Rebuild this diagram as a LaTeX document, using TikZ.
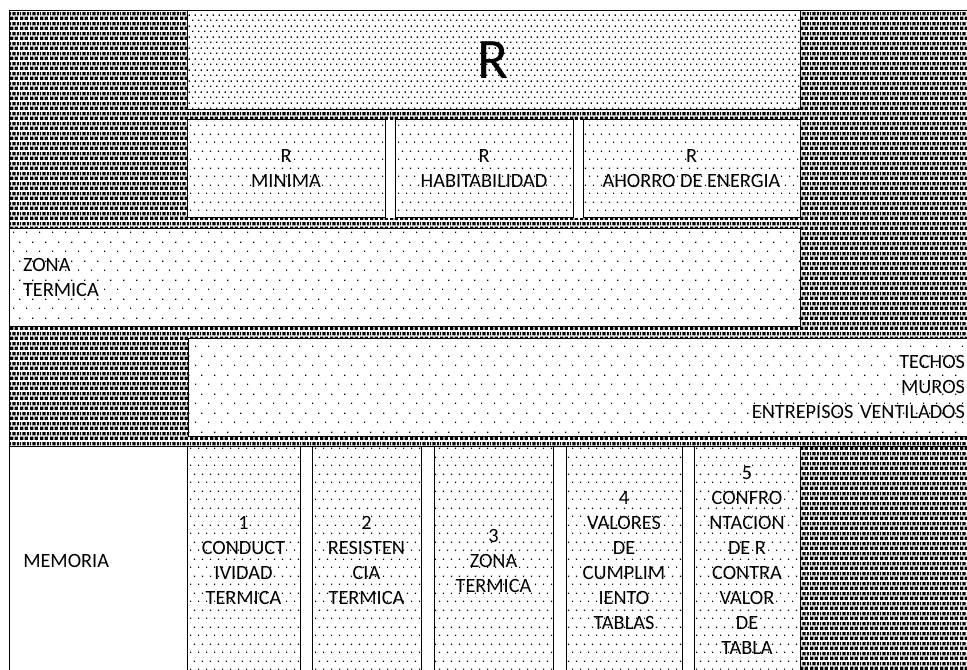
\documentclass[tikz,border=0pt]{standalone}
\usepackage{fontspec}
\setmainfont{Carlito}
\usetikzlibrary{patterns}

% dense checker of black squares (10px tile)
\pgfdeclarepatternformonly{chkpat}{\pgfqpoint{0pt}{0pt}}{\pgfqpoint{7.5pt}{7.5pt}}{\pgfqpoint{7.5pt}{7.5pt}}{%
  \pgfpathrectangle{\pgfqpoint{0pt}{0pt}}{\pgfqpoint{2.75pt}{2.75pt}}%
  \pgfpathrectangle{\pgfqpoint{3.75pt}{0pt}}{\pgfqpoint{2.75pt}{2.75pt}}%
  \pgfpathrectangle{\pgfqpoint{1.875pt}{3.75pt}}{\pgfqpoint{2.75pt}{2.75pt}}%
  \pgfpathrectangle{\pgfqpoint{5.625pt}{3.75pt}}{\pgfqpoint{1.875pt}{2.75pt}}%
  \pgfpathrectangle{\pgfqpoint{0pt}{3.75pt}}{\pgfqpoint{0.875pt}{2.75pt}}%
  \pgfusepath{fill}}
% dense small dots
\pgfdeclarepatternformonly{densedots}{\pgfqpoint{0pt}{0pt}}{\pgfqpoint{4.5pt}{8.25pt}}{\pgfqpoint{4.5pt}{8.25pt}}{%
  \pgfpathrectangle{\pgfqpoint{0pt}{0pt}}{\pgfqpoint{1.2pt}{1.2pt}}%
  \pgfpathrectangle{\pgfqpoint{2.25pt}{4.125pt}}{\pgfqpoint{1.2pt}{1.2pt}}%
  \pgfusepath{fill}}
% medium dots
\pgfdeclarepatternformonly{meddots}{\pgfqpoint{0pt}{0pt}}{\pgfqpoint{6.225pt}{12.75pt}}{\pgfqpoint{6.225pt}{12.75pt}}{%
  \pgfpathrectangle{\pgfqpoint{0pt}{0pt}}{\pgfqpoint{1pt}{1pt}}%
  \pgfpathrectangle{\pgfqpoint{3.1125pt}{6.375pt}}{\pgfqpoint{1pt}{1pt}}%
  \pgfusepath{fill}}
% sparse dots
\pgfdeclarepatternformonly{sparsedots}{\pgfqpoint{0pt}{0pt}}{\pgfqpoint{9.75pt}{14.25pt}}{\pgfqpoint{9.75pt}{14.25pt}}{%
  \pgfpathrectangle{\pgfqpoint{0pt}{0pt}}{\pgfqpoint{1pt}{1pt}}%
  \pgfpathrectangle{\pgfqpoint{4.875pt}{7.125pt}}{\pgfqpoint{1pt}{1pt}}%
  \pgfusepath{fill}}

\begin{document}
\begin{tikzpicture}[x=0.75pt,y=-0.75pt,
  txt/.style={font=\fontsize{15.2pt}{18.75pt}\selectfont},
  cell/.style={draw=black, line width=0.75pt, inner sep=0pt, preaction={fill=white},
     txt, align=center, text=black},
  edge/.style={draw=black, line width=0.75pt}]
\useasboundingbox (0,0) rectangle (967,670);

% checker background
\fill[pattern=chkpat] (9,11) rectangle (985,446);
\fill[pattern=chkpat] (800,446) rectangle (985,685);
% white band behind the second row
\fill[white] (187,120) rectangle (800,218);

% top R box
\node[cell, pattern=densedots, minimum width=459.75pt, minimum height=74.25pt,
      font=\fontsize{43pt}{50pt}\selectfont] (rtop) at (493.5,60.5) {R};

% second row
\node[cell, pattern=meddots, minimum width=148.5pt, minimum height=73.5pt] (rmin) at (286,169) {R\\MINIMA};
\node[cell, pattern=meddots, minimum width=133.5pt, minimum height=73.5pt] (rhab) at (484,169) {R\\HABITABILIDAD};
\node[cell, pattern=meddots, minimum width=162.75pt, minimum height=73.5pt] (rah) at (691.5,169) {R\\AHORRO DE ENERGIA};

% zona termica
\node[cell, pattern=sparsedots, minimum width=593.25pt, minimum height=72.75pt,
      inner xsep=10.5pt, text width=572.25pt, align=left] (zona) at (404.5,277.5) {ZONA\\TERMICA};

% techos
\node[cell, pattern=sparsedots, minimum width=596.25pt, minimum height=73.5pt,
      inner xsep=13.5pt, text width=569.25pt, align=right] (techos) at (585.5,387) {TECHOS\\MUROS\\ENTREPISOS VENTILADOS};

% bottom row
\node[cell, pattern=meddots, minimum width=84.75pt, minimum height=171.75pt] (m1) at (243.5,560.5) {1\\CONDUCT\\IVIDAD\\TERMICA};
\node[cell, pattern=meddots, minimum width=81.75pt, minimum height=171.75pt] (m2) at (366.5,560.5) {2\\RESISTEN\\CIA\\TERMICA};
\node[cell, pattern=meddots, minimum width=89.25pt, minimum height=171.75pt] (m3) at (493.5,560.5) {3\\ZONA\\TERMICA};
\node[cell, pattern=meddots, minimum width=87pt, minimum height=171.75pt] (m4) at (624,560.5) {4\\VALORES\\DE\\CUMPLIM\\IENTO\\TABLAS};
\node[cell, pattern=meddots, minimum width=79.5pt, minimum height=171.75pt] (m5) at (747,560.5) {5\\CONFRO\\NTACION\\DE R\\CONTRA\\VALOR\\DE\\TABLA};

\node[txt, anchor=west, inner sep=0pt] (memo) at (23,561) {MEMORIA};

% outer lines
\coordinate (tl) at (9,11);
\coordinate (bl) at (9,685);
\coordinate (tr) at (985,11);
\coordinate (ml) at (9,446);
\coordinate (mr) at (985,446);
\draw[edge] (bl) -- (tl) -- (tr);
\draw[edge] (ml) -- (mr);
\end{tikzpicture}
\end{document}
